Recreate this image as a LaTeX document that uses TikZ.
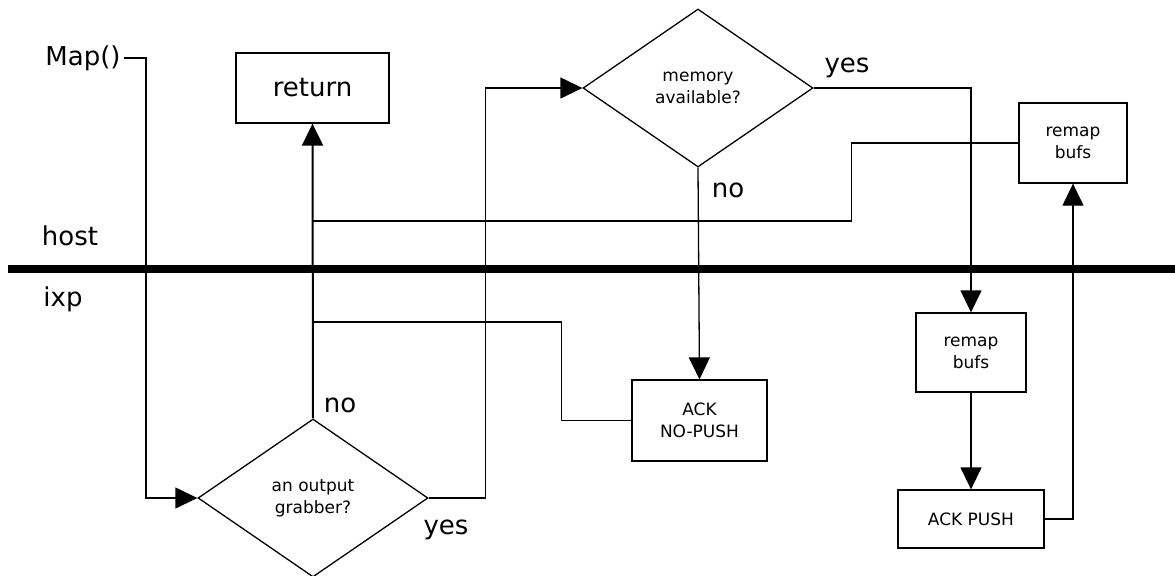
\documentclass[tikz,border=0pt]{standalone}
\usepackage{fontspec}
\setmainfont{DejaVu Sans}
\usetikzlibrary{shapes.geometric,arrows.meta}

\tikzset{
  big/.style={font=\fontsize{13}{15}\selectfont},
  small/.style={font=\fontsize{8.5}{11}\selectfont, align=center},
  boxnode/.style={draw, line width=0.65pt, small, inner sep=0pt},
  decision/.style={draw, diamond, line width=0.65pt, small, inner sep=0pt,
    minimum width=115pt, minimum height=79pt},
  link/.style={line width=0.65pt},
  flow/.style={line width=0.65pt, -{Triangle[length=11pt, width=10.5pt]}},
  mainflow/.style={line width=1pt, -{Triangle[length=11pt, width=10.5pt]}},
  label/.style={big, inner sep=0pt}
}

\begin{document}
\begin{tikzpicture}[x=0.5pt, y=-0.5pt]
  \useasboundingbox (0,0) rectangle (1175,575);

  % host / ixp boundary
  \coordinate (barL) at (8,269);
  \coordinate (barR) at (1175,269);
  \draw[line width=4pt] (barL) -- (barR);
  \node[label] (host) at (70,236) {host};
  \node[label] (ixp) at (63,299) {ixp};

  % nodes
  \node[label, anchor=east, inner sep=1.5pt] (map) at (124,58) {Map()};
  \node[boxnode, big, minimum width=76.5pt, minimum height=35pt] (ret) at (312.5,88) {return};
  \node[decision] (grab) at (313,498) {an output\\grabber?};
  \node[decision] (mem) at (698,88) {memory\\available?};
  \node[boxnode, minimum width=67.5pt, minimum height=40.5pt] (nopush) at (699.5,420.5) {ACK\\NO-PUSH};
  \node[boxnode, minimum width=55pt, minimum height=39.5pt] (remapL) at (971,352.5) {remap\\bufs};
  \node[boxnode, minimum width=73pt, minimum height=29pt] (ackpush) at (971,519) {ACK PUSH};
  \node[boxnode, minimum width=54pt, minimum height=40pt] (remapU) at (1073,143) {remap\\bufs};

  % branch labels
  \node[label] (grabno) at (340,405) {no};
  \node[label] (grabyes) at (446,530) {yes};
  \node[label] (memyes) at (847,68) {yes};
  \node[label] (memno) at (728,190) {no};

  % junctions on the return line
  \coordinate (j1) at (313,221);
  \coordinate (j2) at (313,322);

  % connectors
  \draw[flow] (map.east) -- ++(22,0) |- (grab.west);
  \draw[mainflow] (grab.north) -- (ret.south);
  \draw[flow] (grab.east) -- ++(57,0) |- (mem.west);
  \draw[flow] (mem.south) -- (nopush.north);
  \draw[flow] (mem.east) -| (remapL.north);
  \draw[flow] (remapL.south) -- (ackpush.north);
  \draw[flow] (ackpush.east) -| (remapU.south);
  \draw[link] (remapU.west) -- ++(-167,0) |- (j1);
  \draw[link] (nopush.west) -- ++(-70,0) |- (j2);
\end{tikzpicture}
\end{document}
